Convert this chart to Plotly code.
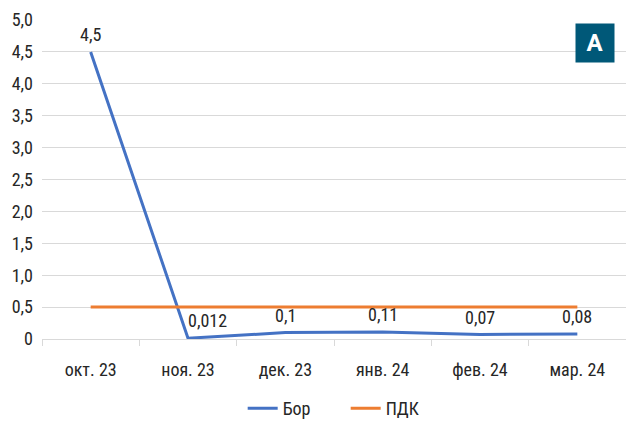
import plotly.graph_objects as go

months = ["окт. 23", "ноя. 23", "дек. 23", "янв. 24", "фев. 24", "мар. 24"]
bor = [4.5, 0.012, 0.1, 0.11, 0.07, 0.08]
bor_labels = ["4,5", "0,012", "0,1", "0,11", "0,07", "0,08"]
pdk = [0.5, 0.5, 0.5, 0.5, 0.5, 0.5]
y_ticks = [0, 0.5, 1.0, 1.5, 2.0, 2.5, 3.0, 3.5, 4.0, 4.5, 5.0]
y_tick_text = ["0", "0,5", "1,0", "1,5", "2,0", "2,5", "3,0", "3,5", "4,0", "4,5", "5,0"]
label_xshift = [0, 19, 0, 0, 0, 0]

FONT = "Roboto Condensed, Liberation Sans Narrow, Roboto, sans-serif"
TXT = "#262626"
FS = 18

fig = go.Figure()
fig.add_trace(go.Scatter(
    x=months, y=bor, name="Бор", mode="lines",
    line=dict(color="#4472C4", width=3),
))
fig.add_trace(go.Scatter(
    x=months, y=pdk, name="ПДК", mode="lines",
    line=dict(color="#ED7D31", width=3),
))

for m, v, lab, xs in zip(months, bor, bor_labels, label_xshift):
    fig.add_annotation(
        x=m, y=v, text=lab, showarrow=False, xanchor="center", yanchor="bottom",
        xshift=xs, yshift=5, font=dict(size=FS, color=TXT, family=FONT),
    )

fig.add_annotation(
    xref="paper", yref="paper", x=0.947, y=0.928, xanchor="center", yanchor="middle",
    text="<b>A</b>", showarrow=False, font=dict(size=24, color="white", family="Roboto, sans-serif"),
    bgcolor="#005878", width=36, height=36, borderpad=1,
)

fig.update_layout(
    width=626, height=427,
    margin=dict(l=42, r=0, t=20, b=88, autoexpand=False),
    paper_bgcolor="white", plot_bgcolor="white",
    font=dict(family=FONT, size=FS, color=TXT),
    showlegend=True,
    legend=dict(orientation="h", x=0.52, xanchor="center", y=-0.2759, yanchor="bottom",
                font=dict(size=FS, color=TXT, family=FONT), entrywidth=58),
    xaxis=dict(
        type="category", tickson="boundaries", ticks="outside", ticklen=6,
        tickcolor="#d9d9d9", showline=True, linecolor="#d9d9d9", linewidth=1,
        showgrid=False, tickfont=dict(size=FS, color=TXT, family=FONT),
        range=[-0.5, 5.5], ticklabelstandoff=14,
    ),
    yaxis=dict(
        range=[0, 5.0], tickvals=y_ticks, ticktext=y_tick_text,
        showgrid=True, gridcolor="#d9d9d9", gridwidth=1, zeroline=False,
        ticks="", tickfont=dict(size=FS, color=TXT, family=FONT),
        ticklabelstandoff=8,
    ),
)

fig.write_html("out.html", config={"displayModeBar": False},
               post_script="document.body.style.margin='0';")
